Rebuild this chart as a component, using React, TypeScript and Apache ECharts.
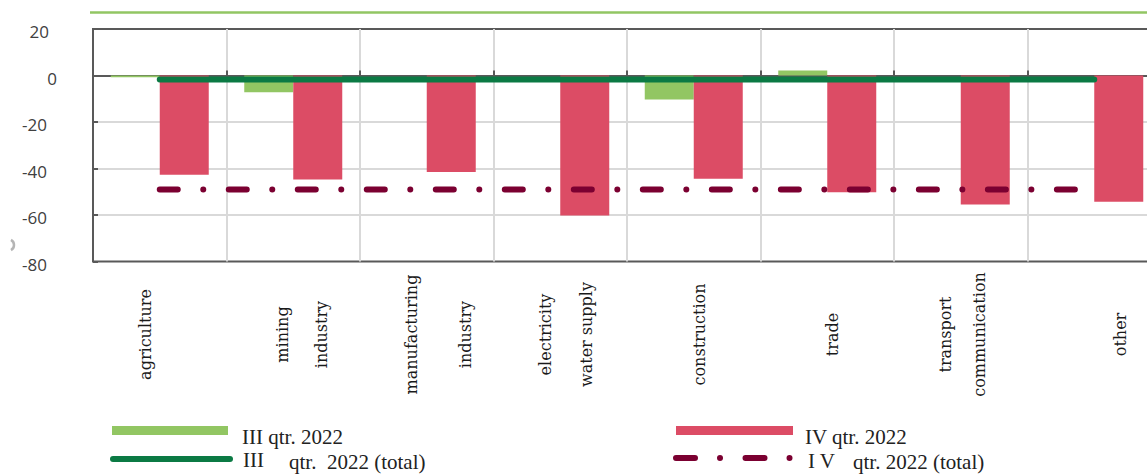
import React, { useEffect, useRef } from 'react';
import * as echarts from 'echarts';

// ---- data ----
const categories = [
  'agriculture',
  'mining\nindustry',
  'manufacturing\nindustry',
  'electricity\nwater supply',
  'construction',
  'trade',
  'transport\ncommunication',
  'other',
];
const q3Values = [-0.7, -7.2, 0, 0, -10.3, 2.2, 0, 0];
const q4Values = [-42.7, -44.7, -41.5, -60.2, -44.4, -50.2, -55.5, -54.3];
const q3Total = -1.7;
const q4Total = -49.0;
const yMin = -80;
const yMax = 20;
const yInterval = 20;
const legendQ3 = 'III qtr. 2022';
const legendQ3TotalParts = ['III', 'qtr.  2022 (total)'];
const legendQ4 = 'IV qtr. 2022';
const legendQ4TotalParts = ['I V', 'qtr. 2022 (total)'];

// ---- styles ----
const GREEN = '#92c663';
const RED = '#dc4c65';
const DKGREEN = '#0b7a44';
const MAROON = '#7b0031';
const GRID = '#d9d9d9';
const BORDER = '#595959';
const SERIF = '"DejaVu Serif", serif';
const LEG_FONT = '21px "Liberation Serif", "Times New Roman", serif';

// per-category label layout (style only): line spacing and sideways shift in px
const labelSpacing = [20, 39, 53.5, 41.5, 20, 20, 33.5, 20];
const labelShift = [-14, 8.75, 11.5, 5.5, 6, 5, 1.5, 25.75];

const labelRich: Record<string, any> = {};
labelSpacing.forEach((sp, i) => {
  labelRich['l' + i] = { lineHeight: sp, fontFamily: SERIF, fontSize: 16, color: '#1a1a1a' };
  labelRich['s' + i] = {
    lineHeight: Math.max(1, Math.abs(2 * labelShift[i])),
    fontFamily: SERIF,
    fontSize: 16,
    color: '#1a1a1a',
  };
});

function formatCategory(value: string, index: number) {
  const parts = value.split('\n').map((l) => `{l${index}|${l}}`);
  const d = labelShift[index];
  if (d > 0) parts.unshift(`{s${index}| }`);
  if (d < 0) parts.push(`{s${index}| }`);
  return parts.join('\n');
}

export default function App() {
  const ref = useRef<HTMLDivElement>(null);
  useEffect(() => {
    if (!ref.current) return;
    const chart = echarts.init(ref.current, undefined, { renderer: 'svg' });
    const option: any = {
      animation: false,
      backgroundColor: '#ffffff',
      grid: {
        left: 93,
        top: 29,
        right: -14,
        bottom: 212.5,
        show: true,
        borderColor: BORDER,
        borderWidth: 2,
        containLabel: false,
        outerBoundsMode: 'none',
      },
      xAxis: [
        {
          type: 'category',
          data: categories,
          position: 'bottom',
          axisLine: { show: false, onZero: false },
          axisTick: { show: false },
          splitLine: {
            show: true,
            interval: 0,
            showMinLine: false,
            showMaxLine: false,
            lineStyle: { color: GRID, width: 2 },
          },
          axisLabel: {
            interval: 0,
            rotate: 90,
            align: 'center',
            verticalAlign: 'middle',
            margin: 73,
            fontFamily: SERIF,
            fontSize: 16,
            color: '#1a1a1a',
            formatter: formatCategory,
            rich: labelRich,
          },
        },
        {
          type: 'category',
          data: categories,
          position: 'top',
          axisLine: { show: true, onZero: true, lineStyle: { color: BORDER, width: 2 } },
          axisTick: { show: true, inside: false, interval: 0, length: 5, lineStyle: { color: BORDER, width: 2 } },
          axisLabel: { show: false },
          splitLine: { show: false },
        },
      ],
      yAxis: {
        type: 'value',
        min: yMin,
        max: yMax,
        interval: yInterval,
        axisLine: { show: false },
        axisTick: { show: true, inside: true, length: 5, lineStyle: { color: BORDER, width: 2 } },
        splitLine: {
          show: true,
          showMinLine: false,
          showMaxLine: false,
          lineStyle: { color: GRID, width: 2 },
        },
        axisLabel: {
          margin: 36,
          formatter: (v: number) => (v === 0 ? '{z|0}' : v === 20 ? '{t|20}' : '{n|' + v + '}'),
          rich: {
            z: { fontFamily: '"Open Sans", sans-serif', fontSize: 17, color: '#404040', padding: [5, 0, 0, 0] },
            t: { fontFamily: '"Open Sans", sans-serif', fontSize: 17, color: '#404040', padding: [5, 8, 0, 0] },
            n: { fontFamily: '"Open Sans", sans-serif', fontSize: 17, color: '#404040', padding: [5, 10, 0, 0] },
          },
        },
      },
      series: [
        {
          type: 'bar',
          name: legendQ3,
          data: q3Values,
          barWidth: 49,
          barGap: '0%',
          itemStyle: { color: GREEN },
          z: 2,
        },
        {
          type: 'bar',
          name: legendQ4,
          data: q4Values,
          barWidth: 49,
          barGap: '0%',
          itemStyle: { color: RED },
          z: 2,
        },
        {
          type: 'line',
          name: legendQ3TotalParts.join(' '),
          data: categories.map(() => q3Total),
          symbol: 'none',
          lineStyle: { color: DKGREEN, width: 6, cap: 'round' },
          z: 4,
        },
        {
          type: 'line',
          name: legendQ4TotalParts.join(' '),
          data: categories.map(() => q4Total),
          symbol: 'none',
          lineStyle: { color: MAROON, width: 6, type: [18, 25.5, 0.01, 25.5], cap: 'round' },
          z: 4,
        },
      ],
      graphic: [
        { type: 'line', shape: { x1: 90, y1: 12.5, x2: 1147, y2: 12.5 }, style: { stroke: GREEN, lineWidth: 2.5 } },
        {
          type: 'arc',
          shape: { cx: 8, cy: 245, r: 6, startAngle: -Math.PI / 3, endAngle: Math.PI / 3 },
          style: { stroke: '#b5b5b5', lineWidth: 2.5, fill: 'none' },
        },
        // legend left
        { type: 'rect', shape: { x: 112, y: 426, width: 116, height: 9 }, style: { fill: GREEN } },
        { type: 'text', x: 242, y: 437, style: { text: legendQ3, font: LEG_FONT, fill: '#222', verticalAlign: 'middle' } },
        {
          type: 'line',
          shape: { x1: 113, y1: 459, x2: 230, y2: 459 },
          style: { stroke: DKGREEN, lineWidth: 6, lineCap: 'round' },
        },
        { type: 'text', x: 243, y: 460, style: { text: legendQ3TotalParts[0], font: LEG_FONT, fill: '#222', verticalAlign: 'middle' } },
        { type: 'text', x: 289, y: 462, style: { text: legendQ3TotalParts[1], font: LEG_FONT, fill: '#222', verticalAlign: 'middle' } },
        // legend right
        { type: 'rect', shape: { x: 676, y: 426, width: 117, height: 9 }, style: { fill: RED } },
        { type: 'text', x: 805, y: 437, style: { text: legendQ4, font: LEG_FONT, fill: '#222', verticalAlign: 'middle' } },
        {
          type: 'line',
          shape: { x1: 676, y1: 458, x2: 790, y2: 458 },
          style: { stroke: MAROON, lineWidth: 6, lineCap: 'round', lineDash: [19, 25, 0.01, 25.5] },
        },
        { type: 'text', x: 808, y: 461, style: { text: legendQ4TotalParts[0], font: LEG_FONT, fill: '#222', verticalAlign: 'middle' } },
        { type: 'text', x: 853, y: 462, style: { text: legendQ4TotalParts[1], font: LEG_FONT, fill: '#222', verticalAlign: 'middle' } },
      ],
    };
    chart.setOption(option);
    return () => chart.dispose();
  }, []);
  return <div ref={ref} style={{ position: 'fixed', left: 0, top: 0, width: 1147, height: 474 }} />;
}
